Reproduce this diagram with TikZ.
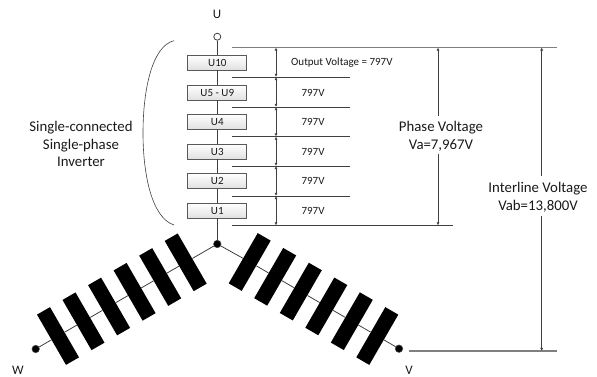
\documentclass[tikz,border=0pt]{standalone}
\usepackage{fontspec}
\setmainfont{Carlito}
\usetikzlibrary{arrows.meta,calc}
\definecolor{wirec}{HTML}{404040}
\definecolor{ruleg}{HTML}{7F7F7F}
\definecolor{boxedge}{HTML}{595959}
\tikzset{
  x=1pt,y=-1pt,
  unitbox/.style={draw=boxedge,line width=0.8pt,top color=white,bottom color=black!12,minimum width=59pt,minimum height=15pt,inner sep=0pt,font=\fontsize{11}{12}\selectfont,text=black!90},
  wire/.style={draw=wirec,line width=0.8pt},
  levelrule/.style={draw=wirec,line width=0.8pt},
  toprule/.style={draw=ruleg,line width=1.1pt},
  dim/.style={draw=wirec,line width=0.8pt,{Latex[length=3.2pt,width=3.2pt]}-{Latex[length=3.2pt,width=3.2pt]}},
  dimup/.style={draw=wirec,line width=0.8pt,{Latex[length=3.2pt,width=3.2pt]}-},
  dimdown/.style={draw=wirec,line width=0.8pt,-{Latex[length=3.2pt,width=3.2pt]}},
  volt/.style={font=\fontsize{11}{12}\selectfont,text=black!90,inner sep=0pt},
  biglabel/.style={font=\fontsize{14.8}{17.5}\selectfont,text=black!90,align=center,inner sep=0pt},
  termlabel/.style={font=\fontsize{13}{14}\selectfont,text=black!90,inner sep=0pt},
  blockl/.style={fill=black,draw=none,minimum width=15pt,minimum height=58pt,inner sep=0pt,rotate=30},
  blockr/.style={fill=black,draw=none,minimum width=15pt,minimum height=58pt,inner sep=0pt,rotate=-30},
  dot/.style={circle,fill=black,draw=wirec,line width=0.5pt,minimum size=7.5pt,inner sep=0pt},
  ring/.style={circle,fill=white,draw=wirec,line width=0.8pt,minimum size=7pt,inner sep=0pt},
}
\begin{document}
\begin{tikzpicture}
\useasboundingbox (0,0) rectangle (597,377);
% terminals
\node[ring] (uterm) at (217.3,36.7) {};
\node[dot] (hub) at (217.3,244) {};
\node[dot] (wdot) at (35.7,349) {};
\node[dot] (vdot) at (399,348.7) {};
% stack
\node[unitbox] (u10) at (217.3,62.5) {U10};
\node[unitbox] (u5) at (217.3,92.5) {U5 - U9};
\node[unitbox] (u4) at (217.3,121.7) {U4};
\node[unitbox] (u3) at (217.3,151.5) {U3};
\node[unitbox] (u2) at (217.3,181) {U2};
\node[unitbox] (u1) at (217.3,210.5) {U1};
\draw[wire] (uterm) -- (u10);
\draw[wire] (u10) -- (u5);
\draw[wire] (u5) -- (u4);
\draw[wire] (u4) -- (u3);
\draw[wire] (u3) -- (u2);
\draw[wire] (u2) -- (u1);
\draw[wire] (u1) -- (hub);
% legs
\node[blockl] (l1) at (185.7,262.3) {};
\node[blockl] (l2) at (160.2,277) {};
\node[blockl] (l3) at (134.6,291.8) {};
\node[blockl] (l4) at (109.1,306.5) {};
\node[blockl] (l5) at (83.5,321.3) {};
\node[blockl] (l6) at (58,336) {};
\draw[wire] (hub) -- (l1);
\draw[wire] (l1) -- (l2);
\draw[wire] (l2) -- (l3);
\draw[wire] (l3) -- (l4);
\draw[wire] (l4) -- (l5);
\draw[wire] (l5) -- (l6);
\draw[wire] (l6) -- (wdot);
\node[blockr] (r1) at (249.7,262) {};
\node[blockr] (r2) at (275.2,276.8) {};
\node[blockr] (r3) at (300.8,291.6) {};
\node[blockr] (r4) at (326.3,306.4) {};
\node[blockr] (r5) at (351.8,321.2) {};
\node[blockr] (r6) at (377.3,336) {};
\draw[wire] (hub) -- (r1);
\draw[wire] (r1) -- (r2);
\draw[wire] (r2) -- (r3);
\draw[wire] (r3) -- (r4);
\draw[wire] (r4) -- (r5);
\draw[wire] (r5) -- (r6);
\draw[wire] (r6) -- (vdot);
% level rules
\coordinate (a0) at (232,47.5); \coordinate (b0) at (556.5,47.5);
\coordinate (a1) at (232,77);   \coordinate (b1) at (350,77);
\coordinate (a2) at (232,107);  \coordinate (b2) at (350,107);
\coordinate (a3) at (232,136.5);\coordinate (b3) at (350,136.5);
\coordinate (a4) at (232,166);  \coordinate (b4) at (350,166);
\coordinate (a5) at (232,196);  \coordinate (b5) at (350,196);
\coordinate (a6) at (232,225.5);\coordinate (b6) at (453,225.5);
\coordinate (a7) at (409,351);  \coordinate (b7) at (556.5,351);
\draw[toprule] (a0) -- (b0);
\draw[levelrule] (a1) -- (b1);
\draw[levelrule] (a2) -- (b2);
\draw[levelrule] (a3) -- (b3);
\draw[levelrule] (a4) -- (b4);
\draw[levelrule] (a5) -- (b5);
\draw[levelrule] (a6) -- (b6);
\draw[toprule] (a7) -- (b7);
% stack dimensions
\coordinate (d0) at (276,47.5);
\coordinate (d1) at (276,77);
\coordinate (d2) at (276,107);
\coordinate (d3) at (276,136.5);
\coordinate (d4) at (276,166);
\coordinate (d5) at (276,196);
\coordinate (d6) at (276,225.5);
\draw[dim] (d0) -- (d1);
\draw[dim] (d1) -- (d2);
\draw[dim] (d2) -- (d3);
\draw[dim] (d3) -- (d4);
\draw[dim] (d4) -- (d5);
\draw[dim] (d5) -- (d6);
\node[volt,anchor=west] (v0) at (291,62.5) {Output Voltage = 797V};
\node[volt] (v1) at (313,92.5) {797V};
\node[volt] (v2) at (313,121.7) {797V};
\node[volt] (v3) at (313,151.5) {797V};
\node[volt] (v4) at (313,181) {797V};
\node[volt] (v5) at (313,210.5) {797V};
% big dimensions
\node[biglabel] (phase) at (441,136.3) {Phase Voltage\\Va=7,967V};
\node[biglabel] (inter) at (538,197.3) {Interline Voltage\\Vab=13,800V};
\coordinate (p0) at (438,47.5);
\coordinate (p1) at (438,225.5);
\coordinate (i0) at (541.7,47.5);
\coordinate (i1) at (541.7,351);
\draw[dimup] (p0) -- ($(p0 |- phase.north)+(0,-5)$);
\draw[dimdown] ($(p1 |- phase.south)+(0,3)$) -- (p1);
\draw[dimup] (i0) -- ($(i0 |- inter.north)+(0,-6)$);
\draw[dimdown] ($(i1 |- inter.south)+(0,4)$) -- (i1);
% labels
\node[termlabel] (ulabel) at (217,14) {U};
\node[termlabel,anchor=base] (wlabel) at (18,374) {W};
\node[termlabel,anchor=base] (vlabel) at (409,374) {V};
\node[biglabel] (sclabel) at (81,144) {Single-connected\\Single-phase\\Inverter};
% brace
\coordinate (c0) at (174,40.7);
\coordinate (c1) at (174,225);
\draw[wire,line width=0.6pt] (c0) .. controls (152,46) and (143,90) .. (143,133) .. controls (143,175) and (152,218) .. (c1);
\end{tikzpicture}
\end{document}
